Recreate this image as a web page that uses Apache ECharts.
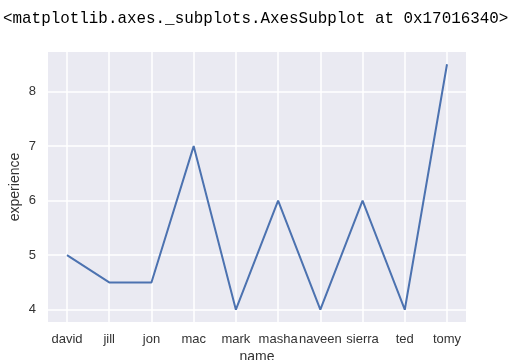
<!DOCTYPE html>
<html>
<head>
<meta charset="utf-8">
<script src="https://cdn.jsdelivr.net/npm/echarts@6/dist/echarts.min.js"></script>
<style>
  html, body { margin: 0; padding: 0; background: #fff; }
  #chart { width: 518px; height: 360px; }
</style>
</head>
<body>
<div id="chart"></div>
<script>
const names = ['david', 'jill', 'jon', 'mac', 'mark', 'masha', 'naveen', 'sierra', 'ted', 'tomy'];
const experience = [5, 4.5, 4.5, 7, 4, 6, 4, 6, 4, 8.5];
const yTicks = [4, 5, 6, 7, 8];
const xTicks = names.map((n, i) => i);

const chart = echarts.init(document.getElementById('chart'));

chart.setOption({
  animation: false,
  title: {
    text: '<matplotlib.axes._subplots.AxesSubplot at 0x17016340>',
    left: 3,
    top: 11,
    padding: 0,
    textStyle: { fontFamily: 'Liberation Mono', fontSize: 15.9, fontWeight: 'normal', color: '#000' }
  },
  grid: {
    left: 48, top: 52, width: 418, height: 270,
    show: true, backgroundColor: '#EAEAF2', borderWidth: 0,
    containLabel: false, outerBoundsMode: 'none'
  },
  xAxis: {
    type: 'value',
    min: -0.45,
    max: 9.45,
    name: 'name',
    nameLocation: 'middle',
    nameGap: 28,
    nameMoveOverlap: false,
    nameTextStyle: { fontFamily: 'Liberation Sans', fontSize: 14, color: '#333' },
    axisLine: { show: false },
    axisTick: { show: false, customValues: xTicks },
    splitLine: { show: true, lineStyle: { color: '#fff', width: 1.5 } },
    axisLabel: {
      customValues: xTicks,
      margin: 11,
      fontFamily: 'Liberation Sans',
      fontSize: 13,
      color: '#333',
      formatter: v => names[Math.round(v)]
    }
  },
  yAxis: {
    type: 'value',
    min: 3.775,
    max: 8.725,
    name: 'experience',
    nameLocation: 'middle',
    nameGap: 26,
    nameMoveOverlap: false,
    nameTextStyle: { fontFamily: 'Liberation Sans', fontSize: 14, color: '#333' },
    axisLine: { show: false },
    axisTick: { show: false, customValues: yTicks },
    splitLine: { show: true, lineStyle: { color: '#fff', width: 1.5 } },
    axisLabel: {
      customValues: yTicks,
      margin: 12,
      fontFamily: 'Liberation Sans',
      fontSize: 13,
      color: '#333'
    }
  },
  series: [{
    type: 'line',
    data: experience.map((v, i) => [i, v]),
    symbol: 'none',
    lineStyle: { color: '#4C72B0', width: 2 }
  }]
});
</script>
</body>
</html>
